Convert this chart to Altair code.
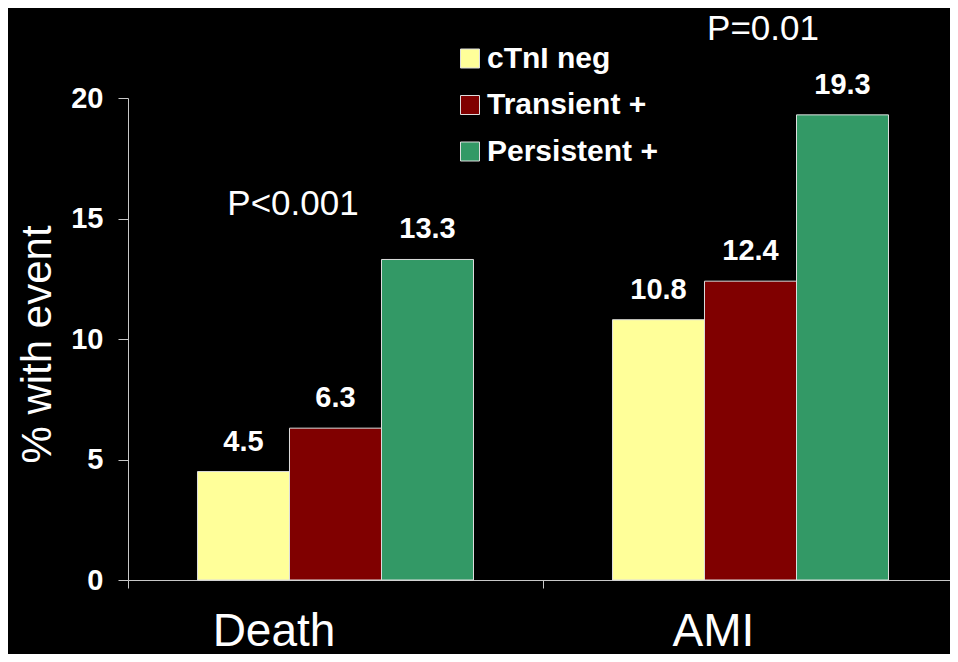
import altair as alt
import pandas as pd

outcomes = ["Death", "AMI"]
groups = ["cTnI neg", "Transient +", "Persistent +"]
death_values = [4.5, 6.3, 13.3]
ami_values = [10.8, 12.4, 19.3]
colors = ["#FFFF99", "#800000", "#339966"]
y_ticks = [0, 5, 10, 15, 20]
p_labels = ["P<0.001", "P=0.01"]
p_outcomes = ["Death", "AMI"]
p_levels = [15.15, 22.4]

rows = []
for g, v in zip(groups, death_values):
    rows.append({"outcome": "Death", "group": g, "value": v})
for g, v in zip(groups, ami_values):
    rows.append({"outcome": "AMI", "group": g, "value": v})
df = pd.DataFrame(rows)

FONT = "Liberation Sans, Arial, Helvetica, sans-serif"
AXIS_GRAY = "#C8C8C8"

x_enc = alt.X(
    "outcome:N",
    sort=outcomes,
    scale=alt.Scale(range=[0, 830], paddingInner=0, paddingOuter=0),
    axis=alt.Axis(
        title=None,
        labelFont=FONT,
        labelFontSize=46,
        labelFontWeight="normal",
        labelColor="white",
        labelAngle=0,
        labelBaseline="alphabetic",
        labelPadding=57,
        labelOffset={"condition": {"test": "datum.value === 'Death'", "value": -62}, "value": -37.5},
        tickBand="extent",
        tickSize=8,
        tickColor=AXIS_GRAY,
        domainColor=AXIS_GRAY,
        grid=False,
    ),
)

y_enc = alt.Y(
    "value:Q",
    scale=alt.Scale(domain=[0, 20], nice=False, zero=True),
    axis=alt.Axis(
        values=y_ticks,
        format="d",
        title="% with event",
        titleFont=FONT,
        titleFontSize=42,
        titleFontWeight="normal",
        titleColor="white",
        titleAngle=270,
        titleX=-78,
        titleY=246,
        titleAlign="center",
        titleBaseline="alphabetic",
        labelFont=FONT,
        labelFontSize=29,
        labelFontWeight="bold",
        labelColor="white",
        labelPadding=15,
        tickSize=10,
        tickColor=AXIS_GRAY,
        domainColor=AXIS_GRAY,
        grid=False,
    ),
)

xoff = alt.XOffset(
    "group:N", sort=groups, scale=alt.Scale(paddingInner=0, paddingOuter=0.7554)
)

bars = alt.Chart(df).mark_bar(stroke="#DDDDDD", strokeWidth=1).encode(
    x=x_enc,
    xOffset=xoff,
    y=y_enc,
    color=alt.Color(
        "group:N",
        sort=groups,
        scale=alt.Scale(domain=groups, range=colors),
        legend=alt.Legend(
            title=None,
            orient="none",
            legendX=327,
            legendY=-54.5,
            symbolType="square",
            symbolSize=361,
            symbolStrokeColor="#DDDDDD",
            symbolStrokeWidth=1,
            symbolOpacity=1,
            labelFont=FONT,
            labelFontSize=30,
            labelFontWeight="bold",
            labelColor="white",
            labelOffset=2,
            labelLimit=400,
            rowPadding=16.5,
            padding=0,
        ),
    ),
)

values_text = alt.Chart(df).mark_text(
    dy=-21, baseline="alphabetic", fontSize=29, fontWeight="bold", color="white", font=FONT
).encode(
    x=x_enc,
    xOffset=xoff,
    y=y_enc,
    text=alt.Text("value:Q", format=".1f"),
)

p_df1 = pd.DataFrame({"outcome": [p_outcomes[0]], "value": [p_levels[0]], "label": [p_labels[0]]})
p_df2 = pd.DataFrame({"outcome": [p_outcomes[1]], "value": [p_levels[1]], "label": [p_labels[1]]})

p1 = alt.Chart(p_df1).mark_text(
    dx=-42.5, baseline="alphabetic", fontSize=35, color="white", font=FONT
).encode(x=x_enc, y=y_enc, text="label:N")
p2 = alt.Chart(p_df2).mark_text(
    dx=12.5, baseline="alphabetic", fontSize=35, color="white", font=FONT
).encode(x=x_enc, y=y_enc, text="label:N")

chart = (
    alt.layer(bars, values_text, p1, p2)
    .properties(
        width=822,
        height=482,
        padding={"left": 120, "top": 90, "right": 0, "bottom": 74},
        autosize="none",
        background="black",
    )
    .configure_view(stroke=None)
)

chart.save("out.html", embed_options={"renderer": "svg", "actions": False})
